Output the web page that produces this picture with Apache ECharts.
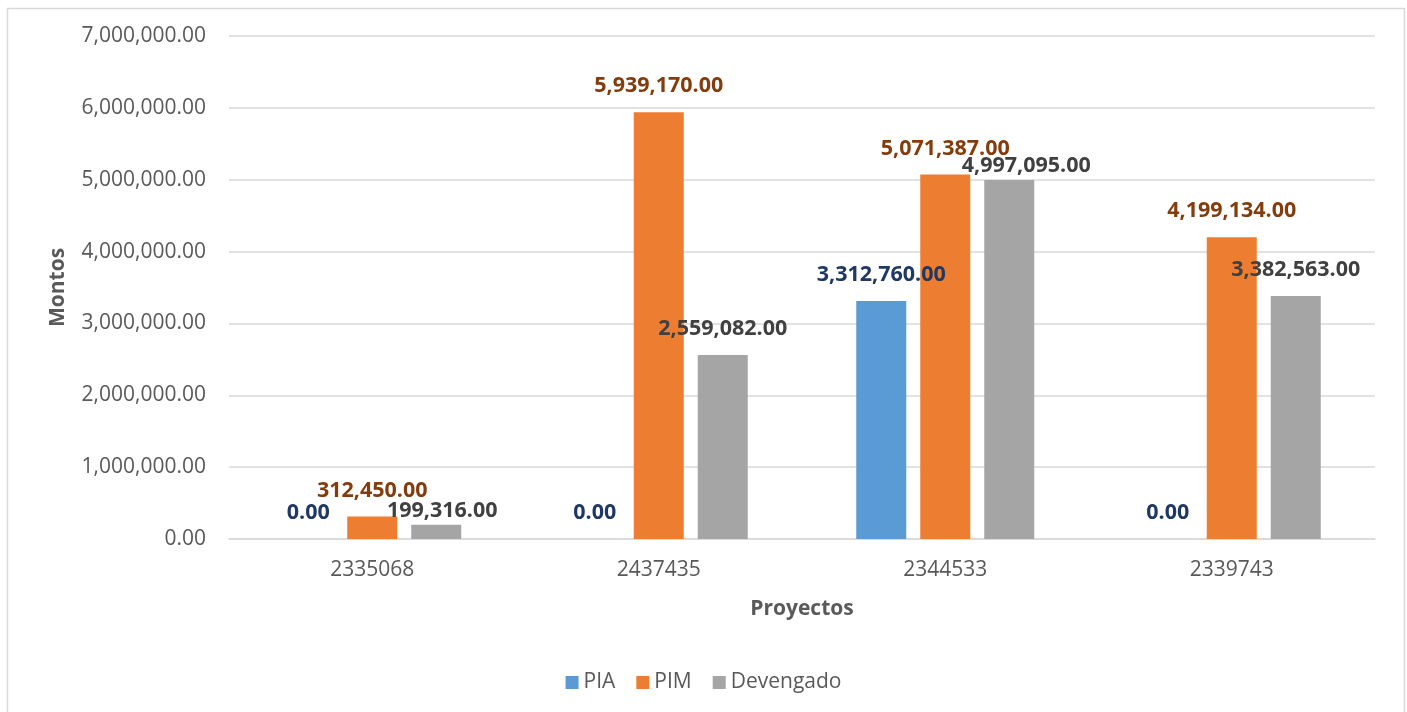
<!DOCTYPE html>
<html>
<head>
<meta charset="utf-8">
<script src="https://cdn.jsdelivr.net/npm/echarts@6/dist/echarts.min.js"></script>
<style>
html,body{margin:0;padding:0;background:#fff;}
#chart{width:1407px;height:712px;}
</style>
</head>
<body>
<div id="chart"></div>
<script>
const categories = ['2335068', '2437435', '2344533', '2339743'];
const seriesNames = ['PIA', 'PIM', 'Devengado'];
const piaValues = [0, 0, 3312760, 0];
const pimValues = [312450, 5939170, 5071387, 4199134];
const devValues = [199316, 2559082, 4997095, 3382563];
const yTicks = { min: 0, max: 7000000, interval: 1000000 };

// label nudges (style, not data): Excel-like overlap avoidance
const devLabelOffsets = [[6, 12], [0, 0], [17, 12], [0, 0]];

const fmt = new Intl.NumberFormat('en-US', { minimumFractionDigits: 2, maximumFractionDigits: 2 });
const FONT = '"Open Sans", "Noto Sans", sans-serif';

const chart = echarts.init(document.getElementById('chart'));

function mkSeries(name, values, color, labelColor, offsets) {
  return {
    name: name,
    type: 'bar',
    barWidth: 50,
    barGap: '28%',
    itemStyle: { color: color },
    data: values.map((v, i) => ({
      value: v,
      label: offsets ? { offset: offsets[i] } : undefined
    })),
    label: {
      show: true,
      position: 'top',
      distance: 15,
      color: labelColor,
      fontFamily: FONT,
      fontWeight: 'bold',
      fontSize: 21.5,
      formatter: p => fmt.format(p.value)
    }
  };
}

chart.setOption({
  animation: false,
  backgroundColor: '#fff',
  textStyle: { fontFamily: FONT },
  graphic: [{
    type: 'rect',
    left: 5, top: 6,
    shape: { width: 1397, height: 730 },
    style: { fill: 'none', stroke: '#D9D9D9', lineWidth: 1.5 },
    silent: true
  }],
  grid: { left: 229, right: 32, top: 36, bottom: 173, containLabel: false },
  legend: {
    data: seriesNames,
    bottom: 14,
    left: 'center',
    itemWidth: 13,
    itemHeight: 13,
    itemGap: 21,
    icon: 'rect',
    textStyle: { color: '#595959', fontSize: 21, fontFamily: FONT }
  },
  xAxis: {
    type: 'category',
    data: categories,
    name: 'Proyectos',
    nameLocation: 'middle',
    nameGap: 60,
    nameTextStyle: { color: '#595959', fontSize: 21, fontWeight: 'bold', fontFamily: FONT },
    axisLine: { lineStyle: { color: '#D9D9D9', width: 1.5 } },
    axisTick: { show: false },
    axisLabel: { color: '#595959', fontSize: 21, margin: 21, fontFamily: FONT }
  },
  yAxis: {
    type: 'value',
    min: yTicks.min,
    max: yTicks.max,
    interval: yTicks.interval,
    name: 'Montos',
    nameLocation: 'middle',
    nameRotate: 90,
    nameGap: 160,
    nameTextStyle: { color: '#595959', fontSize: 21, fontWeight: 'bold', fontFamily: FONT },
    axisLine: { show: false },
    axisTick: { show: false },
    splitLine: { lineStyle: { color: '#D9D9D9', width: 1.5 } },
    axisLabel: { color: '#595959', fontSize: 21, margin: 23, fontFamily: FONT, formatter: v => fmt.format(v) }
  },
  series: [
    mkSeries('PIA', piaValues, '#5B9BD5', '#1F3864', null),
    mkSeries('PIM', pimValues, '#ED7D31', '#843C0C', null),
    mkSeries('Devengado', devValues, '#A5A5A5', '#404040', devLabelOffsets)
  ]
});
</script>
</body>
</html>
